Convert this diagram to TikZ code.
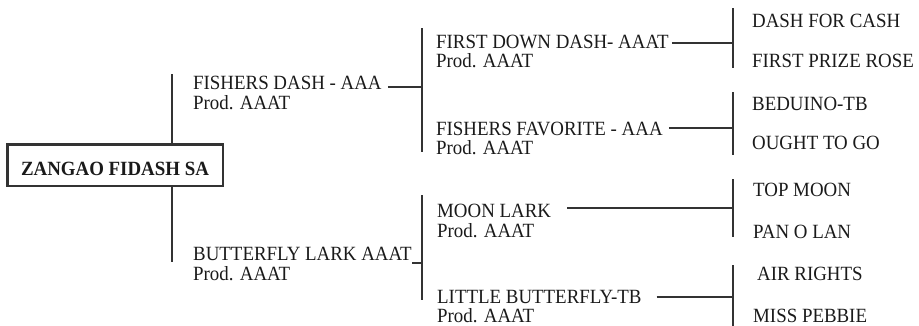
\documentclass[tikz,border=0pt]{standalone}
\usepackage{fontspec}
\setmainfont{Liberation Serif}[FakeStretch=0.935]
\definecolor{txt}{HTML}{1A1A1A}
\definecolor{ln}{HTML}{333333}
\begin{document}
\begin{tikzpicture}[x=1pt,y=-1pt,
  lbl/.style={anchor=base west, inner sep=0, font=\fontsize{20.2}{22}\selectfont, text=txt},
  link/.style={draw=ln, line width=1.2pt},
  stub/.style={draw=ln, line width=2pt},
  rootbox/.style={draw=ln, line width=2.5pt, minimum width=215.5pt, minimum height=41.5pt,
    inner sep=0, text height=20pt, text depth=0pt,
    font=\fontsize{20.2}{22}\selectfont\bfseries, text=txt}]
\useasboundingbox (0,0) rectangle (919,325);

% root
\node[rootbox] (root) at (115,165) {ZANGAO FIDASH SA};
\coordinate (t1) at (172,74);
\coordinate (t2) at (172,262);
\draw[link] (t1) -- (t1 |- root.north);
\draw[link] (root.south -| t2) -- (t2);

% level 1
\node[lbl] (fd)  at (193,89)    {FISHERS DASH - AAA};
\node[lbl] (fdP) at (193,109)   {Prod. AAAT};
\node[lbl] (bl)  at (193,260)   {BUTTERFLY LARK AAAT};
\node[lbl] (blP) at (193,280)   {Prod. AAAT};

% level-1 brackets
\coordinate (b1t) at (422,28);
\coordinate (b1b) at (422,152);
\coordinate (b2t) at (422,195);
\coordinate (b2b) at (422,300);
\draw[link] (b1t) -- (b1b);
\draw[link] (b2t) -- (b2b);
\draw[stub] ([shift={(6,-2)}]fd.base east) coordinate (s1) -- (s1 -| b1t);
\draw[stub] ([shift={(0.5,3)}]bl.base east) coordinate (s2) -- (s2 -| b2t);

% level 2
\node[lbl] (fdd)  at (436,48)  {FIRST DOWN DASH- AAAT};
\node[lbl] (fddP) at (436,67)  {Prod. AAAT};
\node[lbl] (ff)   at (436,135) {FISHERS FAVORITE - AAA};
\node[lbl] (ffP)  at (436,154) {Prod. AAAT};
\node[lbl] (ml)   at (437,217) {MOON LARK};
\node[lbl] (mlP)  at (437,237) {Prod. AAAT};
\node[lbl] (lb)   at (437,303) {LITTLE BUTTERFLY-TB};
\node[lbl] (lbP)  at (437,322) {Prod. AAAT};

% level-2 brackets
\coordinate (c1t) at (733,8);   \coordinate (c1b) at (733,68);
\coordinate (c2t) at (733,92);  \coordinate (c2b) at (733,155);
\coordinate (c3t) at (733,179); \coordinate (c3b) at (733,237);
\coordinate (c4t) at (733,265); \coordinate (c4b) at (733,326);
\draw[link] (c1t) -- (c1b);
\draw[link] (c2t) -- (c2b);
\draw[link] (c3t) -- (c3b);
\draw[link] (c4t) -- (c4b);
\draw[link] ([shift={(3,-5)}]fdd.base east) coordinate (h1) -- (h1 -| c1t);
\draw[link] ([shift={(6,-7)}]ff.base east) coordinate (h2) -- (h2 -| c2t);
\draw[link] ([shift={(16,-9)}]ml.base east) coordinate (h3) -- (h3 -| c3t);
\draw[link] ([shift={(15,-6)}]lb.base east) coordinate (h4) -- (h4 -| c4t);

% leaves
\node[lbl] (l1) at (752,27)  {DASH FOR CASH};
\node[lbl] (l2) at (752,67)  {FIRST PRIZE ROSE};
\node[lbl] (l3) at (752,110) {BEDUINO-TB};
\node[lbl] (l4) at (752,149) {OUGHT TO GO};
\node[lbl] (l5) at (753,196) {TOP MOON};
\node[lbl] (l6) at (753,238) {PAN O LAN};
\node[lbl] (l7) at (757,280) {AIR RIGHTS};
\node[lbl] (l8) at (753,322) {MISS PEBBIE};
\end{tikzpicture}
\end{document}
